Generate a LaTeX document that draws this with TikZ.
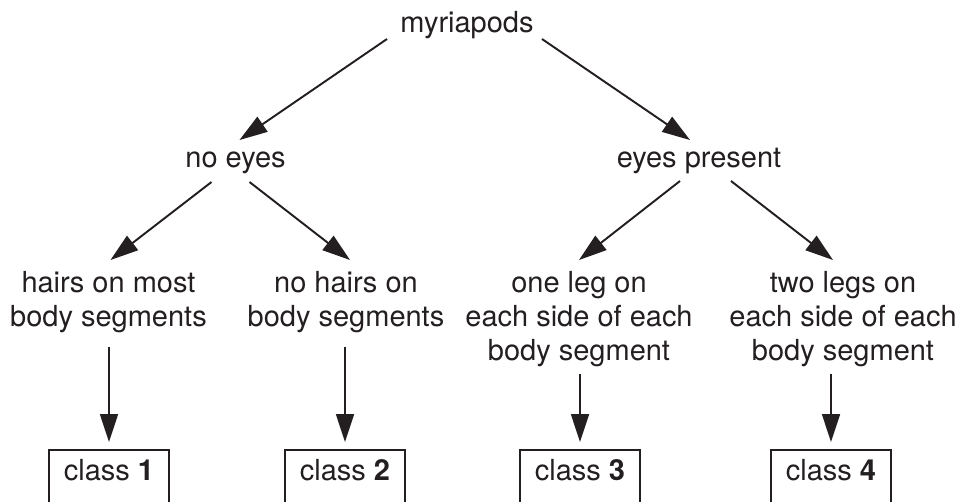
\documentclass[tikz,border=0pt]{standalone}
\usepackage{fontspec}
\setmainfont{TeX Gyre Heros}
\usetikzlibrary{arrows.meta,calc}

\definecolor{ink}{RGB}{35,31,32}
\newcommand{\picw}{960}
\newcommand{\pich}{501}

\tikzset{
  lbl/.style={inner sep=0pt, align=center, text=ink, font=\fontsize{16.5}{19.3}\selectfont},
  classbox/.style={lbl, draw=ink, line width=1.1pt, minimum width=68.6pt, text height=17.6pt, text depth=30pt},
  arr/.style={draw=ink, line width=1.1pt, -{Triangle[length=15.9pt,width=10.2pt]}}
}

\begin{document}
\begin{tikzpicture}[x=0.02cm,y=-0.02cm]
    \useasboundingbox (0,0) rectangle (\picw,\pich);
    \node[lbl,anchor=base] (myr) at (467,32) {myriapods};
    \node[lbl,anchor=base] (noeyes) at (235.5,167) {no eyes};
    \node[lbl,anchor=base] (eyes) at (699,167) {eyes present};
    \node[lbl,anchor=north] (hairs) at (108.5,271) {hairs on most\\body segments};
    \node[lbl,anchor=north] (nohairs) at (346,271) {no hairs on\\body segments};
    \node[lbl,anchor=north] (oneleg) at (579,271) {one leg on\\each side of each\\body segment};
    \node[lbl,anchor=north] (twolegs) at (843,271) {two legs on\\each side of each\\body segment};
    \foreach \n/\x in {1/109,2/345,3/580,4/831}
    {
        \node[classbox,anchor=north] (class\n) at (\x,449) {class \textbf{\n}};
    }
    \draw[arr] ($(myr.base)+(-80,7)$) -- ($(noeyes.base)+(4,-27)$);
    \draw[arr] ($(myr.base)+(75,7)$) -- ($(eyes.base)+(-9,-27)$);
    \draw[arr] ($(noeyes.base)+(-24,15)$) -- ($(hairs.north)+(2,-11)$);
    \draw[arr] ($(noeyes.base)+(14,15)$) -- ($(nohairs.north)+(4,-11)$);
    \draw[arr] ($(eyes.base)+(-19,14)$) -- ($(oneleg.north)+(0,-11)$);
    \draw[arr] ($(eyes.base)+(32,14)$) -- ($(twolegs.north)+(-10,-11)$);
    \foreach \t/\n/\s in {hairs/1/7.9pt,nohairs/2/7.9pt,oneleg/3/4pt,twolegs/4/4pt}
    {
        \draw[arr,shorten <=\s,shorten >=4pt] (class\n.north |- \t.south) -- (class\n.north);
    }
\end{tikzpicture}
\end{document}
